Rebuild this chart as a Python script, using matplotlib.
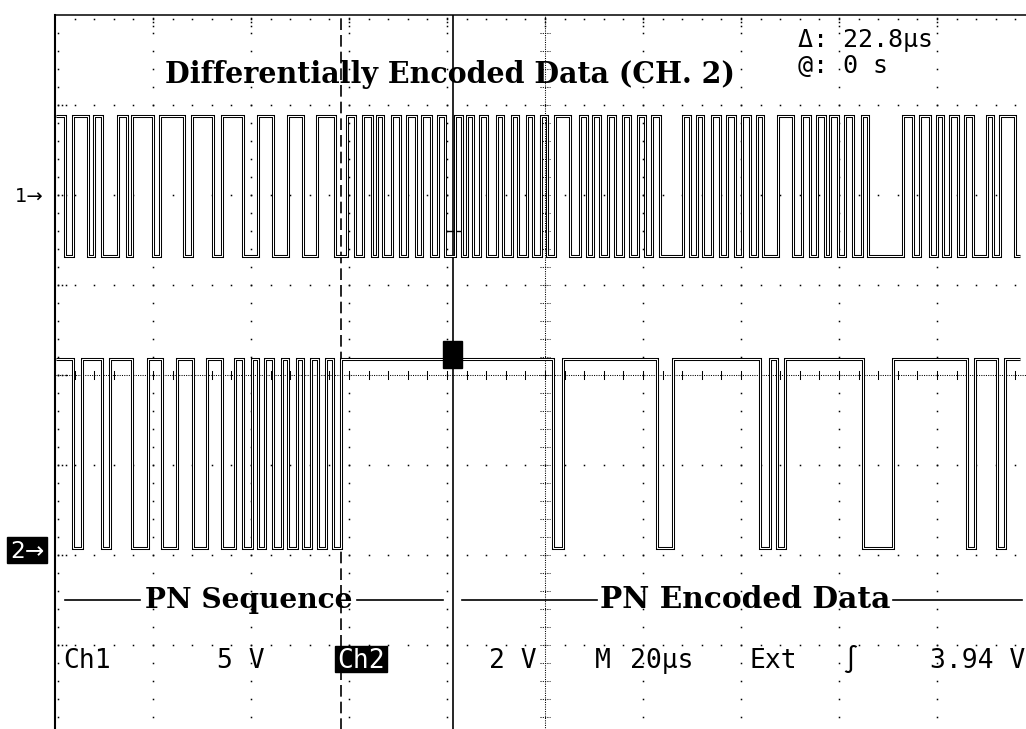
import matplotlib
matplotlib.use("Agg")
import matplotlib.pyplot as plt
from matplotlib.patches import Rectangle
import numpy as np

W, H, DPI = 1026, 729, 100

# acquisition settings
TIME_PER_DIV = 20.0        # M 20us
CH1_VOLTS_PER_DIV = 5.0    # Ch1 5 V
CH2_VOLTS_PER_DIV = 2.0    # Ch2 2 V
CH1_GROUND_DIV = 2.0       # "1->" marker, divisions above centre
CH2_GROUND_DIV = -1.92     # "2->" marker
TRIGGER_DIV = 4.06         # t = 0, divisions from the left edge
CURSOR_DELTA_US = 22.8

record_start_us = -81.0
record_end_us = 115.7

# Channel 1: differentially encoded data (transition times, starts high)
ch1_edges_us = [
    -79.18, -77.55, -74.49, -73.27, -71.63, -68.37, -66.53, -65.51, -61.22, -59.80,
    -54.90, -53.27, -48.98, -47.14, -42.86, -39.80, -36.73, -33.67, -30.61, -27.76,
    -24.08, -21.63, -20.00, -18.37, -16.53, -15.51, -14.29, -12.45, -10.82, -9.39,
    -7.55, -6.33, -4.49, -3.06, -1.63, 0.41, 1.84, 2.86, 4.08, 5.51,
    6.94, 8.98, 10.20, 12.04, 13.27, 15.10, 16.33, 17.96, 19.18, 20.82,
    23.88, 25.92, 27.35, 28.57, 30.00, 31.63, 33.06, 34.69, 36.12, 37.76,
    39.18, 40.61, 42.24, 46.94, 48.37, 49.80, 51.02, 52.86, 54.49, 55.92,
    57.55, 58.98, 60.61, 62.04, 63.27, 66.33, 69.39, 71.22, 72.86, 74.29,
    75.92, 76.94, 78.57, 80.00, 81.63, 83.47, 84.69, 91.84, 93.88, 95.31,
    97.35, 98.78, 100.00, 101.43, 103.06, 104.49, 106.12, 108.98, 110.20, 111.63,
    114.69,
]
ch1_levels_v = (4.4, -3.4)

# Channel 2: PN sequence, then PN encoded data (transition times, starts high)
ch2_edges_us = [
    -77.55, -75.71, -71.63, -70.00, -65.51, -62.24, -59.39, -56.33, -53.06, -50.20,
    -47.14, -44.49, -42.86, -41.02, -39.80, -38.37, -36.73, -34.90, -33.67, -31.84,
    -30.61, -28.98, -27.55, -25.92, -24.49, -22.86, 20.41, 22.45, 41.63, 44.90,
    62.65, 64.69, 66.12, 67.76, 83.67, 89.80, 104.90, 106.53, 111.02, 112.65,
]
ch2_levels_v = (4.2, 0.0)

# screen geometry (pixels)
SCREEN_LEFT, SCREEN_TOP = 55, 15
DIV_W, DIV_H = 98, 90

fig = plt.figure(figsize=(W / DPI, H / DPI), dpi=DPI)
fig.patch.set_facecolor("white")

ax = fig.add_axes([SCREEN_LEFT / W, 1 - (SCREEN_TOP + 8 * DIV_H) / H,
                   10 * DIV_W / W, 8 * DIV_H / H])
x0 = -TRIGGER_DIV * TIME_PER_DIV
x1 = x0 + 10 * TIME_PER_DIV
ax.set_xlim(x0, x1)
ax.set_ylim(-4, 4)
ax.set_xticks([])
ax.set_yticks([])
for side in ("right", "bottom"):
    ax.spines[side].set_visible(False)
ax.spines["left"].set_linewidth(1.5)
ax.spines["top"].set_linewidth(1.1)

px_x = TIME_PER_DIV / DIV_W   # us per pixel
px_y = 1.0 / DIV_H            # div per pixel
dot = dict(ls="none", marker="s", ms=1.1, mew=0, color="k")

minor_x = x0 + np.arange(1, 50) * TIME_PER_DIV / 5
minor_y = -4 + np.arange(1, 40) * 0.2
xc = x0 + 5 * TIME_PER_DIV

# dotted major grid
for k in range(1, 10):
    if k == 5:
        continue
    ax.plot(np.full_like(minor_y, x0 + k * TIME_PER_DIV), minor_y, **dot)
for j in range(-3, 4):
    if j == 0:
        continue
    ax.plot(minor_x, np.full_like(minor_x, j), **dot)

# frame ticks
for y in minor_y:
    ax.plot([x0 + 3 * px_x], [y], **dot)
for j in range(-3, 4):
    ax.plot(x0 + np.array([3, 7, 11]) * px_x, [j] * 3, **dot)
for x in minor_x:
    ax.plot([x], [4 - 4 * px_y], **dot)
for k in range(1, 10):
    ax.plot([x0 + k * TIME_PER_DIV] * 3, 4 - np.array([3, 7, 11]) * px_y, **dot)

# centre cross with minor ticks
ax.plot([xc, xc], [-4, 4], color="k", lw=0.75, ls=(0, (1, 1.2)))
ax.plot([x0, x1], [0, 0], color="k", lw=0.75, ls=(0, (1, 1.2)))
for y in minor_y:
    ax.plot([xc - 5 * px_x, xc + 5 * px_x], [y, y], color="k", lw=0.75, ls=(0, (1, 1.2)))
for x in minor_x:
    ax.plot([x, x], [-4 * px_y, 4 * px_y], color="k", lw=0.75)

# cursors
ax.axvline(0.0, color="k", lw=1.2)
ax.axvline(-CURSOR_DELTA_US, color="k", lw=1.2, ls=(0, (7, 3)))
ax.plot([-8 * px_x, 8 * px_x], [CH1_GROUND_DIV - 0.4, CH1_GROUND_DIV - 0.4], color="k", lw=1.0)


def draw_trace(edges, levels, volts_per_div, ground_div):
    hi, lo = levels
    xs = [record_start_us] + list(edges) + [record_end_us]
    lv = [hi if i % 2 == 0 else lo for i in range(len(edges) + 1)]
    ys = ground_div + np.array(lv + [lv[-1]]) / volts_per_div
    kw = dict(drawstyle="steps-post", solid_joinstyle="miter", solid_capstyle="butt")
    ax.plot(xs, ys, color="k", lw=2.2, **kw)
    ax.plot(xs, ys, color="w", lw=0.75, **kw)


draw_trace(ch1_edges_us, ch1_levels_v, CH1_VOLTS_PER_DIV, CH1_GROUND_DIV)
draw_trace(ch2_edges_us, ch2_levels_v, CH2_VOLTS_PER_DIV, CH2_GROUND_DIV)

# trigger marker on channel 2
ax.add_patch(Rectangle((-10 * px_x, CH2_GROUND_DIV + 4.2 / CH2_VOLTS_PER_DIV - 0.1),
                       19 * px_x, 27 * px_y, color="k", zorder=5))

# ---- annotation layer in pixel coordinates ----
ov = fig.add_axes([0, 0, 1, 1])
ov.set_xlim(0, W)
ov.set_ylim(H, 0)
ov.axis("off")
ov.patch.set_alpha(0)
renderer = fig.canvas.get_renderer()


def fit_text(x_left, x_right, y, s, size=16, **kw):
    t = ov.text(x_left, y, s, fontsize=size, ha="left", **kw)
    bb = t.get_window_extent(renderer)
    t.set_fontsize(size * (x_right - x_left) / bb.width)
    return t


serif = dict(family="DejaVu Serif", weight="bold", va="baseline")
sans = dict(family="DejaVu Sans", va="baseline")
readout = dict(family="DejaVu Sans Mono", va="baseline", fontsize=18)
status = dict(family="DejaVu Sans Mono", va="baseline", fontsize=19)

fit_text(165, 735, 83, "Differentially Encoded Data (CH. 2)", **serif)
ov.text(798, 47, "Δ: 22.8µs", **readout)
ov.text(798, 73, "@: 0 s", **readout)

ov.text(15, 202, "1→", family="DejaVu Sans", fontsize=14)
ov.add_patch(Rectangle((7, 537), 40, 26, color="k"))
fit_text(10, 44, 558, "2→", color="w", **sans)

for xa, xb in [(65, 140), (357, 443), (462, 597), (893, 1022)]:
    ov.plot([xa, xb], [600, 600], color="k", lw=1.2)
fit_text(145, 352, 608, "PN Sequence", **serif)
fit_text(600, 890, 608, "PN Encoded Data", **serif)

ov.text(63, 668, "Ch1", **status)
ov.text(217, 668, "5 V", **status)
ch2_label = ov.text(337, 668, "Ch2", color="w", zorder=4, **status)
bb = ch2_label.get_window_extent(renderer)
ov.add_patch(Rectangle((335, 646), bb.width + 4, 26, color="k", zorder=3))
ov.text(489, 668, "2 V", **status)
ov.text(595, 668, "M", **status)
ov.text(630, 668, "20µs", **status)
ov.text(750, 668, "Ext", **status)
ov.text(842, 668, "∫", **status)
ov.text(1025, 668, "3.94 V", ha="right", **status)

fig.savefig("out.png", dpi=DPI, facecolor="white")
